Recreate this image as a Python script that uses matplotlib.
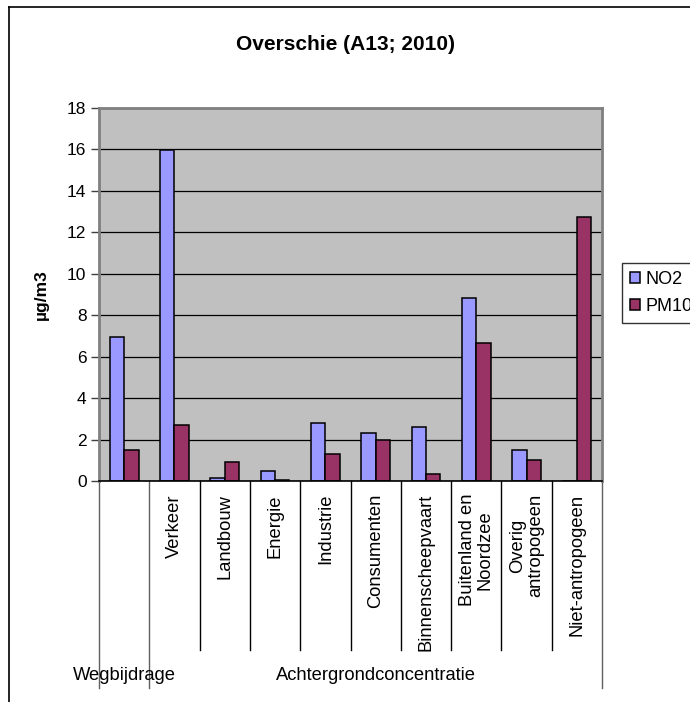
import matplotlib
matplotlib.use("Agg")
import matplotlib.pyplot as plt
import numpy as np
from matplotlib.transforms import blended_transform_factory
from matplotlib.lines import Line2D

plt.rcParams['font.family'] = ['Liberation Sans', 'DejaVu Sans']

categories = ["", "Verkeer", "Landbouw", "Energie", "Industrie", "Consumenten",
              "Binnenscheepvaart", "Buitenland en\nNoordzee", "Overig\nantropogeen",
              "Niet-antropogeen"]
groups = ["Wegbijdrage", "Achtergrondconcentratie"]
group_sizes = [1, 9]
no2 = [6.97, 15.95, 0.14, 0.48, 2.82, 2.33, 2.59, 8.85, 1.49, 0.0]
pm10 = [1.52, 2.68, 0.90, 0.07, 1.28, 1.96, 0.32, 6.68, 1.02, 12.75]
series_names = ["NO2", "PM10"]
yticks = [0, 2, 4, 6, 8, 10, 12, 14, 16, 18]

W, H = 690, 702
fig = plt.figure(figsize=(W / 100, H / 100), dpi=100)
fig.patch.set_facecolor("white")

def fx(px):
    return px / W

def fy(py):
    return 1 - py / H

# chart border (left and top visible)
fig.add_artist(Line2D([fx(9), fx(9)], [fy(7), fy(702)], color="black", lw=1.2))
fig.add_artist(Line2D([fx(9), fx(690)], [fy(7), fy(7)], color="black", lw=1.2))

left, right, top, bottom = 99, 602, 108, 481
ax = fig.add_axes([fx(left), fy(bottom), fx(right - left), (bottom - top) / H])
ax.set_facecolor("#C0C0C0")

n = len(categories)
x = np.arange(n)
bw = 1 / 3.5
ax.bar(x - bw / 2, no2, width=bw, color="#9999FF", edgecolor="black", linewidth=1.1,
       label=series_names[0], zorder=3)
ax.bar(x + bw / 2, pm10, width=bw, color="#993366", edgecolor="black", linewidth=1.1,
       label=series_names[1], zorder=3)

ax.set_xlim(-0.5, n - 0.5)
ax.set_ylim(0, 18)
ax.set_yticks(yticks)
ax.set_yticklabels([str(t) for t in yticks], fontsize=12.5)
ax.set_xticks([])
ax.yaxis.grid(True, color="black", linewidth=0.9, zorder=1)
ax.set_axisbelow(True)
ax.tick_params(axis="y", direction="out", length=6, width=1, pad=3, color="#404040")
for side in ["left", "top", "right"]:
    ax.spines[side].set_color("#808080")
    ax.spines[side].set_linewidth(2)
ax.spines["bottom"].set_color("black")
ax.spines["bottom"].set_linewidth(1.2)
ax.spines["bottom"].set_zorder(4)

ax.set_ylabel("µg/m3", fontsize=12.5, fontweight="bold", labelpad=13)

fig.text(fx(345), fy(44), "Overschie (A13; 2010)", fontsize=15, fontweight="bold",
         ha="center", va="center")

# category axis labels
tr = blended_transform_factory(ax.transData, fig.transFigure)
for i, lab in enumerate(categories):
    if lab:
        ax.text(i, fy(494), lab, transform=tr, rotation=90, ha="center", va="top",
                multialignment="center", fontsize=13.2, linespacing=1.05, clip_on=False)

# separators
bounds = np.arange(n + 1) - 0.5
group_edges = np.concatenate([[0], np.cumsum(group_sizes)]) - 0.5
for b in bounds:
    long = np.any(np.isclose(b, group_edges))
    yend = 688 if long else 650
    col = "#606060" if long else "black"
    ax.add_artist(Line2D([b, b], [fy(bottom), fy(yend)], transform=tr, color=col,
                         lw=1.0, clip_on=False))

# group labels
start = 0
for g, s in zip(groups, group_sizes):
    center = start + (s - 1) / 2
    ax.text(center, fy(676), g, transform=tr, ha="center", va="center", fontsize=13.2,
            clip_on=False)
    start += s

# legend
leg = fig.legend(loc="upper left", bbox_to_anchor=(fx(622), fy(263)), frameon=True,
                 fontsize=13, handlelength=0.55, handleheight=0.55, handletextpad=0.3,
                 borderpad=0.45, labelspacing=0.55, fancybox=False, borderaxespad=0)
leg.get_frame().set_edgecolor("black")
leg.get_frame().set_linewidth(1.0)

fig.savefig("out.png", dpi=100)
